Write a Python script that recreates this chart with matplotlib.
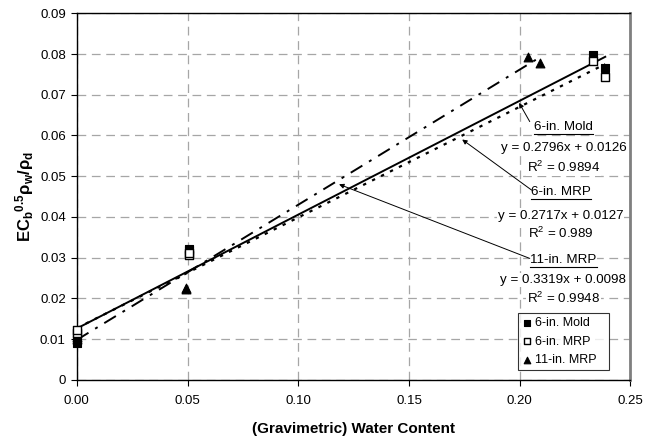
import matplotlib
matplotlib.use("Agg")
import matplotlib.pyplot as plt
from matplotlib.lines import Line2D
import numpy as np

plt.rcParams['font.family'] = ['Liberation Sans', 'DejaVu Sans']
plt.rcParams['mathtext.fontset'] = 'custom'
plt.rcParams['mathtext.rm'] = 'Liberation Sans'
plt.rcParams['mathtext.it'] = 'Liberation Sans'
plt.rcParams['mathtext.bf'] = 'Liberation Sans:bold'

# ---- data ----
mold_x = [0.0, 0.0, 0.0, 0.0505, 0.0505, 0.2331, 0.2386]
mold_y = [0.0090, 0.0098, 0.0106, 0.0318, 0.0322, 0.0797, 0.0766]
mrp6_x = [0.0, 0.0, 0.0505, 0.0505, 0.2331, 0.2386]
mrp6_y = [0.0114, 0.0122, 0.0306, 0.0312, 0.0783, 0.0743]
mrp11_x = [0.0, 0.0, 0.0492, 0.0492, 0.2038, 0.2090]
mrp11_y = [0.0100, 0.0106, 0.0222, 0.0225, 0.0793, 0.0779]

fit_mold = [0.2796, 0.0126]
fit_mrp6 = [0.2717, 0.0127]
fit_mrp11 = [0.3319, 0.0098]
r2_mold, r2_mrp6, r2_mrp11 = "0.9894", "0.989", "0.9948"

series_names = ["6-in. Mold", "6-in. MRP", "11-in. MRP"]
x_ticks = [0.00, 0.05, 0.10, 0.15, 0.20, 0.25]
x_ticklabels = ["0.00", "0.05", "0.10", "0.15", "0.20", "0.25"]
y_ticks = [0, 0.01, 0.02, 0.03, 0.04, 0.05, 0.06, 0.07, 0.08, 0.09]
y_ticklabels = ["0", "0.01", "0.02", "0.03", "0.04", "0.05", "0.06", "0.07", "0.08", "0.09"]

fig = plt.figure(figsize=(6.46, 4.37), dpi=100)
ax = fig.add_axes([0.119, 0.131, 0.857, 0.8386])

ax.set_xlim(0, 0.25)
ax.set_ylim(0, 0.09)
ax.set_xticks(x_ticks)
ax.set_xticklabels(x_ticklabels)
ax.set_yticks(y_ticks)
ax.set_yticklabels(y_ticklabels)
ax.tick_params(labelsize=9.5, length=4, width=0.8, direction='out')
ax.tick_params(axis='x', pad=7)
ax.tick_params(axis='y', pad=4)
ax.grid(True, color='#a6a6a6', linestyle=(0, (7, 4.5)), linewidth=0.9)
ax.set_axisbelow(True)
for s in ['left', 'bottom', 'top']:
    ax.spines[s].set_linewidth(1.0)
    ax.spines[s].set_color('black')
ax.spines['right'].set_color('#7f7f7f')
ax.spines['right'].set_linewidth(2.0)

# trendlines
def trend(xs, fit, **kw):
    xx = np.array([min(xs), max(xs)])
    ax.plot(xx, fit[0] * xx + fit[1], color='black', zorder=3, **kw)

trend(mold_x, fit_mold, linestyle='-', linewidth=1.4)
trend(mrp6_x, fit_mrp6, linestyle=(0, (1.5, 3)), linewidth=1.6)
trend(mrp11_x, fit_mrp11, linestyle=(0, (7, 4, 1.5, 4)), linewidth=1.4)

# markers
ax.scatter(mold_x, mold_y, marker='s', s=34, facecolor='black', edgecolor='black', linewidths=0.8, zorder=4, label=series_names[0], clip_on=False)
ax.scatter(mrp6_x, mrp6_y, marker='s', s=34, facecolor='white', edgecolor='black', linewidths=1.0, zorder=5, label=series_names[1], clip_on=False)
ax.scatter(mrp11_x, mrp11_y, marker='^', s=40, facecolor='black', edgecolor='black', linewidths=0.8, zorder=4, label=series_names[2], clip_on=False)

ax.set_xlabel("(Gravimetric) Water Content", fontsize=11, fontweight='bold', labelpad=11)
ax.set_ylabel(r'$\mathbf{EC_b}^{\mathbf{0.5}}\mathbf{\rho_w/\rho_d}$', fontsize=12, labelpad=3)

leg = ax.legend(loc='lower left', bbox_to_anchor=(0.7965, 0.026, 0.165, 0.164), mode='expand',
                frameon=True, fancybox=False, edgecolor='black', fontsize=9,
                handlelength=0.7, handletextpad=0.3, borderpad=0.35, labelspacing=0.5,
                borderaxespad=0, markerscale=0.75)
leg.get_frame().set_linewidth(0.8)
leg.set_zorder(10)

bb = dict(facecolor='white', edgecolor='none', pad=0.6)
fs = 9.6
titles = []
def block(name, fit, r2, y_name, y_eq, y_r2, xc=0.2197):
    t = ax.text(xc, y_name, name, ha='center', va='center', fontsize=fs, bbox=bb, zorder=6)
    ax.text(xc, y_eq, f"y = {fit[0]}x + {fit[1]}", ha='center', va='center', fontsize=fs, bbox=bb, zorder=6)
    ax.text(xc, y_r2, r"R$^2$ = " + r2, ha='center', va='center', fontsize=fs, bbox=bb, zorder=6)
    titles.append(t)

block(series_names[0], fit_mold, r2_mold, 0.0620, 0.0569, 0.0521)
block(series_names[1], fit_mrp6, r2_mrp6, 0.0460, 0.0402, 0.0360, xc=0.2185)
block(series_names[2], fit_mrp11, r2_mrp11, 0.0294, 0.0245, 0.0199)

ap = dict(arrowstyle='-|>', color='black', lw=0.7, mutation_scale=7, shrinkA=0, shrinkB=0)
ax.annotate("", xy=(0.1997, 0.0680), xytext=(0.2045, 0.0634), arrowprops=ap, zorder=7)
ax.annotate("", xy=(0.1740, 0.0590), xytext=(0.2053, 0.0466), arrowprops=ap, zorder=7)
ax.annotate("", xy=(0.1184, 0.0480), xytext=(0.2045, 0.0298), arrowprops=ap, zorder=7)

# underline titles
fig.canvas.draw()
r = fig.canvas.get_renderer()
inv = fig.transFigure.inverted()
for t in titles:
    ext = t.get_window_extent(renderer=r)
    (x0, y0), (x1, y1) = inv.transform([(ext.x0, ext.y0), (ext.x1, ext.y1)])
    yl = y0 - 0.5 / 437
    fig.add_artist(Line2D([x0, x1], [yl, yl], color='black', lw=0.8, zorder=8))

fig.savefig("out.png", dpi=100)
